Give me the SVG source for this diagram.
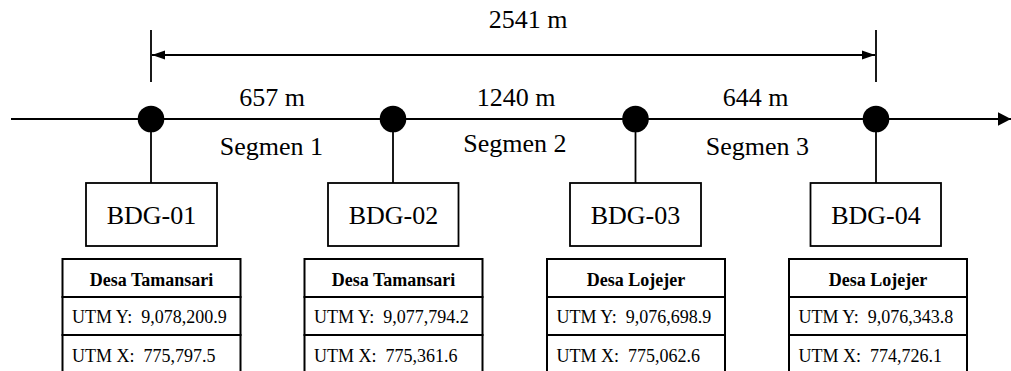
<svg xmlns="http://www.w3.org/2000/svg" width="1011" height="371" viewBox="0 0 1011 371">
<style>
.ln{stroke:#000;stroke-width:1.8;fill:none}
.box{fill:#fff;stroke:#000;stroke-width:1.8}
.tb{fill:#fff;stroke:#000;stroke-width:2}
.big{font-family:"Liberation Serif","Times New Roman",serif;font-size:26px;fill:#000;text-anchor:middle}
.bdg{font-family:"Liberation Serif","Times New Roman",serif;font-size:26px;fill:#000;text-anchor:middle}
.hd{font-family:"Liberation Serif","Times New Roman",serif;font-size:18px;font-weight:bold;fill:#000;text-anchor:middle}
.cl{font-family:"Liberation Serif","Times New Roman",serif;font-size:18px;fill:#000;white-space:pre}
.dot{fill:#000}
</style>
<defs>
<marker id="ah" markerWidth="14" markerHeight="14" refX="13" refY="7" orient="auto" markerUnits="userSpaceOnUse"><path d="M0,0.3 L13,7 L0,13.7 Z" fill="#000"/></marker>
<marker id="dh" markerWidth="14" markerHeight="10" refX="13" refY="5" orient="auto-start-reverse" markerUnits="userSpaceOnUse"><path d="M0,0.5 L13,5 L0,9.5 Z" fill="#000"/></marker>
</defs>
<g id="connectors">
<line class="ln" x1="11" y1="119" x2="1011" y2="119" marker-end="url(#ah)"/>
<line class="ln" x1="151" y1="30" x2="151" y2="82"/>
<line class="ln" x1="876" y1="30" x2="876" y2="82"/>
<line class="ln" x1="152" y1="55" x2="875" y2="55" marker-start="url(#dh)" marker-end="url(#dh)"/>
<line class="ln" x1="151" y1="119" x2="151" y2="183"/>
<line class="ln" x1="393" y1="119" x2="393" y2="183"/>
<line class="ln" x1="635.5" y1="119" x2="635.5" y2="183"/>
<line class="ln" x1="876" y1="119" x2="876" y2="183"/>
</g>
<g id="labels">
<text class="big" x="528" y="28">2541 m</text>
<text class="big" x="272" y="106">657 m</text>
<text class="big" x="516" y="106">1240 m</text>
<text class="big" x="755.5" y="106">644 m</text>
<text class="big" x="271.5" y="155">Segmen 1</text>
<text class="big" x="515" y="152">Segmen 2</text>
<text class="big" x="757.5" y="155">Segmen 3</text>
</g>
<g id="p1">
<circle class="dot" cx="151" cy="119" r="13.3"/>
<rect class="box" x="86" y="183" width="131" height="63"/>
<text class="bdg" x="151.5" y="224">BDG-01</text>
</g>
<g id="p2">
<circle class="dot" cx="393" cy="119" r="13.3"/>
<rect class="box" x="328" y="183" width="130.5" height="63"/>
<text class="bdg" x="393.5" y="224">BDG-02</text>
</g>
<g id="p3">
<circle class="dot" cx="635.5" cy="119" r="13.3"/>
<rect class="box" x="570" y="183" width="131" height="63"/>
<text class="bdg" x="635.5" y="224">BDG-03</text>
</g>
<g id="p4">
<circle class="dot" cx="876" cy="119" r="13.3"/>
<rect class="box" x="810.5" y="183" width="130.5" height="63"/>
<text class="bdg" x="876" y="224">BDG-04</text>
</g>
<g id="t1">
<rect class="tb" x="62.5" y="259" width="178" height="38"/>
<rect class="tb" x="62.5" y="297" width="178" height="38"/>
<rect class="tb" x="62.5" y="335" width="178" height="40"/>
<text class="hd" x="151.5" y="286">Desa Tamansari</text>
<text class="cl" x="72" y="323">UTM Y:  9,078,200.9</text>
<text class="cl" x="72" y="362">UTM X:  775,797.5</text>
</g>
<g id="t2">
<rect class="tb" x="304.5" y="259" width="178" height="38"/>
<rect class="tb" x="304.5" y="297" width="178" height="38"/>
<rect class="tb" x="304.5" y="335" width="178" height="40"/>
<text class="hd" x="393.5" y="286">Desa Tamansari</text>
<text class="cl" x="314" y="323">UTM Y:  9,077,794.2</text>
<text class="cl" x="314" y="362">UTM X:  775,361.6</text>
</g>
<g id="t3">
<rect class="tb" x="547" y="259" width="178" height="38"/>
<rect class="tb" x="547" y="297" width="178" height="38"/>
<rect class="tb" x="547" y="335" width="178" height="40"/>
<text class="hd" x="636" y="286">Desa Lojejer</text>
<text class="cl" x="556.5" y="323">UTM Y:  9,076,698.9</text>
<text class="cl" x="556.5" y="362">UTM X:  775,062.6</text>
</g>
<g id="t4">
<rect class="tb" x="789" y="259" width="178" height="38"/>
<rect class="tb" x="789" y="297" width="178" height="38"/>
<rect class="tb" x="789" y="335" width="178" height="40"/>
<text class="hd" x="878" y="286">Desa Lojejer</text>
<text class="cl" x="798.5" y="323">UTM Y:  9,076,343.8</text>
<text class="cl" x="798.5" y="362">UTM X:  774,726.1</text>
</g>
</svg>
